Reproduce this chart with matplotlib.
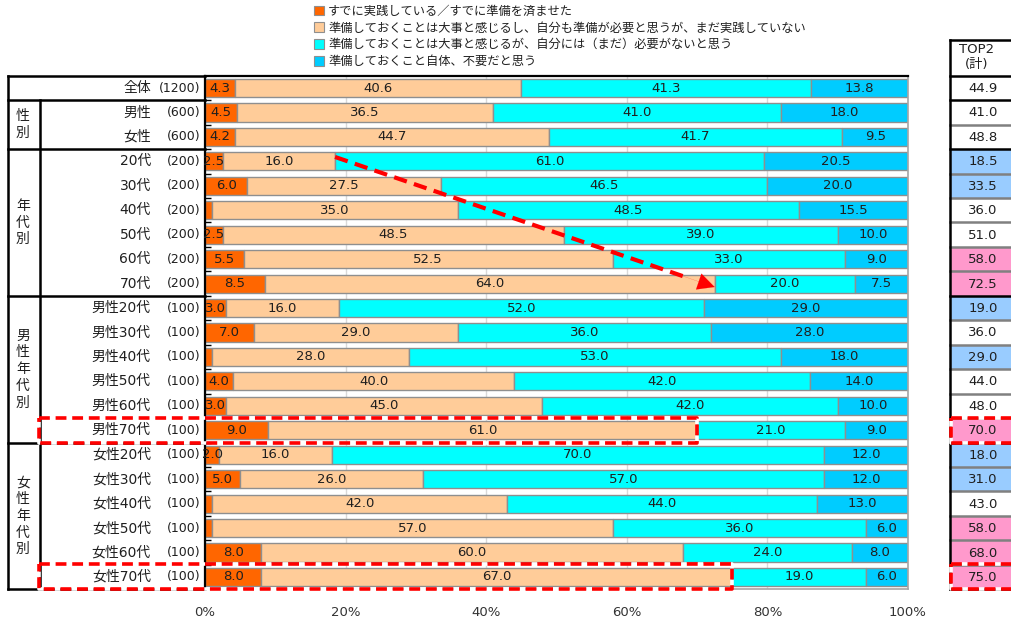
import matplotlib
matplotlib.use("Agg")
import matplotlib.pyplot as plt
import matplotlib.transforms as mtransforms
from matplotlib.patches import Patch, Rectangle

plt.rcParams['font.family'] = ['DejaVu Sans', 'Noto Sans CJK JP']

# ---- data -------------------------------------------------------------
row_names = ['全体', '男性', '女性',
             '20代', '30代', '40代', '50代', '60代', '70代',
             '男性20代', '男性30代', '男性40代', '男性50代', '男性60代', '男性70代',
             '女性20代', '女性30代', '女性40代', '女性50代', '女性60代', '女性70代']
row_counts = ['(1200)', '(600)', '(600)'] + ['(200)'] * 6 + ['(100)'] * 12

series_labels = ['すでに実践している／すでに準備を済ませた',
                 '準備しておくことは大事と感じるし、自分も準備が必要と思うが、まだ実践していない',
                 '準備しておくことは大事と感じるが、自分には（まだ）必要がないと思う',
                 '準備しておくこと自体、不要だと思う']

done = [4.3, 4.5, 4.2, 2.5, 6.0, 1.0, 2.5, 5.5, 8.5,
        3.0, 7.0, 1.0, 4.0, 3.0, 9.0, 2.0, 5.0, 1.0, 1.0, 8.0, 8.0]
need_not_done = [40.6, 36.5, 44.7, 16.0, 27.5, 35.0, 48.5, 52.5, 64.0,
                 16.0, 29.0, 28.0, 40.0, 45.0, 61.0, 16.0, 26.0, 42.0, 57.0, 60.0, 67.0]
not_needed_yet = [41.3, 41.0, 41.7, 61.0, 46.5, 48.5, 39.0, 33.0, 20.0,
                  52.0, 36.0, 53.0, 42.0, 42.0, 21.0, 70.0, 57.0, 44.0, 36.0, 24.0, 19.0]
unnecessary = [13.8, 18.0, 9.5, 20.5, 20.0, 15.5, 10.0, 9.0, 7.5,
               29.0, 28.0, 18.0, 14.0, 10.0, 9.0, 12.0, 12.0, 13.0, 6.0, 8.0, 6.0]

top2 = [44.9, 41.0, 48.8, 18.5, 33.5, 36.0, 51.0, 58.0, 72.5,
        19.0, 36.0, 29.0, 44.0, 48.0, 70.0, 18.0, 31.0, 43.0, 58.0, 68.0, 75.0]
top2_mark = ['', '', '', 'low', 'low', '', '', 'high', 'high',
             'low', '', 'low', '', '', 'high', 'low', 'low', '', 'high', 'high', 'high']

groups = [('性別', 1, 2), ('年代別', 3, 8), ('男性年代別', 9, 14), ('女性年代別', 15, 20)]
highlight_rows = [14, 20]
trend_rows = (3, 8)  # 20代 -> 70代

# ---- style ------------------------------------------------------------
colors = ['#FF6600', '#FFCC99', '#00FFFF', '#00CCFF']
mark_fill = {'': 'white', 'low': '#99CCFF', 'high': '#FF99CC'}
text_color = '#1F1F1F'
W, H = 1011, 623

fig = plt.figure(figsize=(W / 100, H / 100), dpi=100)
ax_left, ax_right, ax_top, ax_bot = 205, 908, 75.8, 589.2
ax = fig.add_axes([ax_left / W, 1 - ax_bot / H, (ax_right - ax_left) / W, (ax_bot - ax_top) / H])

n = len(row_names)
ys = list(range(n))


def fx(px):
    """pixel column -> axes fraction"""
    return (px - ax_left) / (ax_right - ax_left)


trans = mtransforms.blended_transform_factory(ax.transAxes, ax.transData)

# stacked bars
left = [0.0] * n
for vals, col in zip([done, need_not_done, not_needed_yet, unnecessary], colors):
    ax.barh(ys, vals, left=left, height=0.74, color=col, edgecolor='#8F8F8F',
            linewidth=1.0, zorder=2)
    for y, v, l in zip(ys, vals, left):
        if v >= 2:
            ax.text(l + v / 2, y, f'{v:.1f}', ha='center', va='center',
                    fontsize=9.5, color=text_color, zorder=4)
    left = [a + b for a, b in zip(left, vals)]

ax.set_xlim(0, 100)
ax.set_ylim(n - 0.5, -0.5)
ax.set_xticks(range(0, 101, 20))
ax.set_xticklabels([f'{t}%' for t in range(0, 101, 20)], fontsize=9.5, color='#333333')
ax.tick_params(axis='x', length=0, pad=12)
ax.set_yticks([])
ax.set_yticks([i + 0.5 for i in range(n - 1)], minor=True)
ax.tick_params(axis='y', which='minor', direction='in', length=4, width=1, color='black')
ax.grid(axis='x', color='#D9D9D9', linewidth=1)
ax.set_axisbelow(True)
ax.spines['top'].set_color('black')
ax.spines['top'].set_linewidth(1.6)
ax.spines['left'].set_color('black')
ax.spines['left'].set_linewidth(1.6)
for s in ('right', 'bottom'):
    ax.spines[s].set_color('#A6A6A6')
    ax.spines[s].set_linewidth(1.2)

# ---- left table ---------------------------------------------------------
lk = dict(transform=trans, clip_on=False, color='black', linewidth=1.8, zorder=5)
x0, x1 = fx(8), fx(40)
ax.plot([x0, 0], [-0.5, -0.5], **lk)
ax.plot([x0, 0], [n - 0.5, n - 0.5], **lk)
ax.plot([x0, x0], [-0.5, n - 0.5], **lk)
ax.plot([x1, x1], [0.5, n - 0.5], **lk)
for _, a, b in groups:
    ax.plot([x0, 0], [a - 0.5, a - 0.5], **lk)

for y, name, cnt in zip(ys, row_names, row_counts):
    ax.text(fx(151), y, name, transform=trans, ha='right', va='center',
            fontsize=10, color=text_color)
    ax.text(fx(200), y, cnt, transform=trans, ha='right', va='center',
            fontsize=9, color=text_color)

for label, a, b in groups:
    ax.text(fx(23), (a + b) / 2, '\n'.join(label), transform=trans, ha='center',
            va='center', fontsize=10, color=text_color, linespacing=1.25)

# ---- TOP2 column ----------------------------------------------------------
c0, c1 = fx(950), fx(1030)
head_top = -1.96
group_starts = [a for _, a, _ in groups] + [1]
for y, v, m in zip(ys, top2, top2_mark):
    ax.add_patch(Rectangle((c0, y - 0.5), c1 - c0, 1, transform=trans,
                           facecolor=mark_fill[m], edgecolor='none', clip_on=False, zorder=1))
    ax.text(fx(983), y + 0.02, f'{v:.1f}', transform=trans, ha='center', va='center',
            fontsize=9.5, color=text_color)
for i in range(1, n):
    if i in group_starts:
        ax.plot([c0, c1], [i - 0.5, i - 0.5], **lk)
    else:
        ax.plot([c0, c1], [i - 0.5, i - 0.5], transform=trans, clip_on=False,
                color='#808080', linewidth=1.8, zorder=4)
ax.plot([c0, c1], [head_top, head_top], **lk)
ax.plot([c0, c1], [-0.5, -0.5], **lk)
ax.plot([c0, c1], [n - 0.5, n - 0.5], **lk)
ax.plot([c0, c0], [head_top, n - 0.5], **lk)
ax.text(fx(977), (head_top - 0.5) / 2 - 0.04, 'TOP2\n(計)', transform=trans, ha='center',
        va='center', fontsize=9.5, color=text_color, linespacing=1.15)

# ---- highlight boxes -------------------------------------------------------
dash = dict(transform=trans, clip_on=False, color='#FF0000', linewidth=2.6,
            linestyle=(0, (3, 1.6)), gapcolor='white', zorder=6)
for r in highlight_rows:
    xr = fx(ax_left + (ax_right - ax_left) * top2[r] / 100)
    xl = fx(39)
    ax.plot([xl, xr, xr, xl, xl], [r - 0.52, r - 0.52, r + 0.5, r + 0.5, r - 0.52], **dash)
    ax.plot([fx(951), c1, c1, fx(951), fx(951)],
            [r - 0.52, r - 0.52, r + 0.5, r + 0.5, r - 0.52], **dash)

# ---- trend arrow (20代 -> 70代) -----------------------------------------
ra, rb = trend_rows
start = (top2[ra], ra - 0.18)
end = (top2[rb], rb + 0.14)
fr = 0.93
mid = (start[0] + (end[0] - start[0]) * fr, start[1] + (end[1] - start[1]) * fr)
ax.plot([start[0], mid[0]], [start[1], mid[1]], color='#FF0000', linewidth=3,
        linestyle=(0, (3.2, 1.8)), zorder=7, solid_capstyle='butt')
ax.annotate('', xy=end, xytext=(start[0] + (end[0] - start[0]) * 0.9,
                                start[1] + (end[1] - start[1]) * 0.9),
            arrowprops=dict(arrowstyle='-|>,head_length=1.2,head_width=0.6',
                            color='#FF0000', linewidth=0.1, shrinkA=0, shrinkB=0),
            zorder=7)

# ---- legend ---------------------------------------------------------------
handles = [Patch(facecolor=c, edgecolor='#8F8F8F', linewidth=0.8) for c in colors]
fig.legend(handles, series_labels, loc='upper left', bbox_to_anchor=(314 / W, 1 - 4.5 / H),
           frameon=False, fontsize=8.8, handlelength=0.8, handleheight=0.8,
           handletextpad=0.35, labelspacing=0.32, borderpad=0, borderaxespad=0,
           labelcolor=text_color)

fig.savefig('out.png', dpi=100)
